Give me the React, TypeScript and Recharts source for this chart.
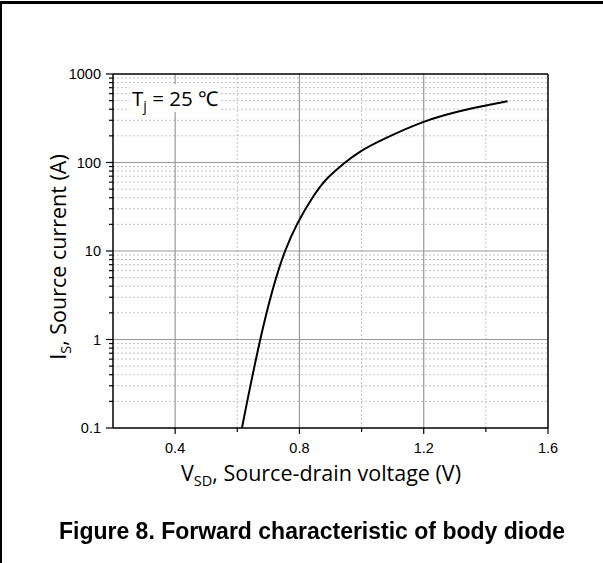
import { LineChart, Line, XAxis, YAxis, ReferenceLine } from 'recharts'

// V_SD (V) vs I_S (A)
const voltage = [0.615, 0.674, 0.754, 0.845, 0.894, 0.947, 0.996, 1.066, 1.2, 1.339, 1.47]
const current = [0.1, 1, 10, 41.5, 68.6, 100, 133, 180, 288, 397, 493]

const xMajor = [0.4, 0.8, 1.2, 1.6]
const xMinor = [0.6, 1.0, 1.4]
const yMajor = [0.1, 1, 10, 100, 1000]
const yMinor = [
  0.2, 0.3, 0.4, 0.5, 0.6, 0.7, 0.8, 0.9,
  2, 3, 4, 5, 6, 7, 8, 9,
  20, 30, 40, 50, 60, 70, 80, 90,
  200, 300, 400, 500, 600, 700, 800, 900,
]

const data = voltage.map((v, i) => ({ v, i: current[i] }))

const tickFont = '"Liberation Sans", Arial, sans-serif'
const labelFont = '"Open Sans", "Noto Sans", sans-serif'

function YTick({ x, y, payload }: any) {
  const major = yMajor.includes(payload.value)
  return (
    <g>
      <line x1={x - (major ? 7 : 4)} x2={x} y1={y} y2={y} stroke="#000" strokeWidth={1.2} />
      {major && (
        <text x={x - 12} y={y + 5} textAnchor="end" fontSize={14.5} fontFamily={tickFont} fill="#000">
          {payload.value}
        </text>
      )}
    </g>
  )
}

function XTick({ x, y, payload }: any) {
  const major = xMajor.includes(payload.value)
  return (
    <g>
      <line x1={x} x2={x} y1={y} y2={y + (major ? 6 : 4)} stroke="#000" strokeWidth={1.2} />
      {major && (
        <text x={x} y={y + 25} textAnchor="middle" fontSize={14.5} fontFamily={tickFont} fill="#000">
          {payload.value.toFixed(1)}
        </text>
      )}
    </g>
  )
}

function YLabel({ viewBox }: any) {
  const cx = 66
  const cy = viewBox.y + viewBox.height / 2 + 6
  return (
    <text
      x={cx}
      y={cy}
      transform={`rotate(-90, ${cx}, ${cy})`}
      textAnchor="middle"
      fontSize={21.5}
      fontFamily={labelFont}
      fill="#000"
    >
      I<tspan fontSize={14.5} dy={5}>S</tspan>
      <tspan dy={-5}>, Source current (A)</tspan>
    </text>
  )
}

function XLabel() {
  return (
    <text x={321} y={481} textAnchor="middle" fontSize={21.5} fontFamily={labelFont} fill="#000">
      V<tspan fontSize={14.5} dy={5}>SD</tspan>
      <tspan dy={-5}>, Source-drain voltage (V)</tspan>
    </text>
  )
}

export default function App() {
  return (
    <div style={{ position: 'fixed', left: 0, top: 0, width: 603, height: 563, background: '#fff' }}>
      <div
        style={{
          position: 'absolute',
          left: 0,
          top: 1,
          width: 603,
          height: 562,
          borderTop: '3px solid #000',
          borderLeft: '2px solid #000',
          boxSizing: 'border-box',
        }}
      />
      <LineChart
        width={603}
        height={563}
        data={data}
        margin={{ top: 74, right: 55, left: 53, bottom: 105 }}
      >
        {yMinor.map((v) => (
          <ReferenceLine key={`ym${v}`} y={v} stroke="#c4c4c4" strokeDasharray="2 2" />
        ))}
        {xMinor.map((v) => (
          <ReferenceLine key={`xm${v}`} x={v} stroke="#c4c4c4" strokeDasharray="2 2" />
        ))}
        {yMajor.slice(1, -1).map((v) => (
          <ReferenceLine key={`yM${v}`} y={v} stroke="#999" strokeWidth={1.2} />
        ))}
        {xMajor.slice(0, -1).map((v) => (
          <ReferenceLine key={`xM${v}`} x={v} stroke="#999" strokeWidth={1.2} />
        ))}
        <ReferenceLine y={1000} stroke="#000" strokeWidth={1.5} />
        <ReferenceLine x={1.6} stroke="#000" strokeWidth={1.5} />
        <XAxis
          dataKey="v"
          type="number"
          domain={[0.2, 1.6]}
          ticks={[...xMajor, ...xMinor].sort((a, b) => a - b)}
          tick={<XTick />}
          tickSize={0}
          tickMargin={0}
          tickLine={false}
          axisLine={{ stroke: '#000', strokeWidth: 1.5 }}
          height={30}
          allowDataOverflow
          label={<XLabel />}
        />
        <YAxis
          type="number"
          scale="log"
          domain={[0.1, 1000]}
          ticks={[...yMajor, ...yMinor].sort((a, b) => a - b)}
          tick={<YTick />}
          tickSize={0}
          tickMargin={0}
          tickLine={false}
          axisLine={{ stroke: '#000', strokeWidth: 1.5 }}
          width={60}
          allowDataOverflow
          interval={0}
          label={<YLabel />}
        />
        <Line
          dataKey="i"
          type="natural"
          stroke="#000"
          strokeWidth={2}
          dot={false}
          isAnimationActive={false}
        />
      </LineChart>
      <div
        style={{
          position: 'absolute',
          left: 130,
          top: 84,
          fontFamily: labelFont,
          fontSize: 20.5,
          background: '#fff',
          lineHeight: '28px',
          padding: '0 2px',
        }}
      >
        T<sub style={{ fontSize: 14, verticalAlign: -5, lineHeight: 0 }}>j</sub> = 25 ℃
      </div>
      <div
        style={{
          position: 'absolute',
          left: 0,
          width: 624,
          top: 518,
          textAlign: 'center',
          fontFamily: tickFont,
          fontWeight: 'bold',
          fontSize: 23,
        }}
      >
        Figure 8. Forward characteristic of body diode
      </div>
    </div>
  )
}
